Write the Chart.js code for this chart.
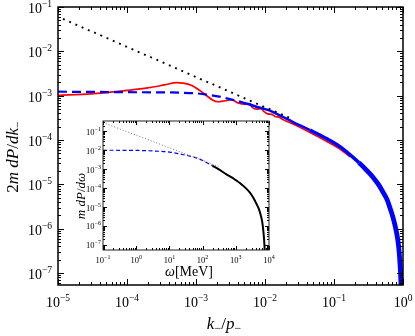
<!DOCTYPE html>
<html><head><meta charset="utf-8">
<script src="https://cdn.jsdelivr.net/npm/chart.js@4"></script>
<style>
html,body{margin:0;padding:0;background:#fff;}
#wrap{position:relative;width:415px;height:336px;overflow:hidden;}
#main{position:absolute;left:0;top:0;}
#inset{position:absolute;left:60px;top:112px;}
</style></head><body>
<div id="wrap"><canvas id="main" width="415" height="336"></canvas><canvas id="inset" width="220" height="175"></canvas></div>
<script>
// ---------- data ----------
const mainXTickExps = [-5,-4,-3,-2,-1,0];
const mainYTickExps = [-7,-6,-5,-4,-3,-2,-1];
const insetXTickExps = [-1,0,1,2,3,4];
const insetYTickExps = [-7,-6,-5,-4,-3,-2,-1];

const dottedX = [1.18e-5, 0.0245];
const dottedY = [0.054, 3.0e-4];

const blueX = [1e-5,3e-5,1e-4,3e-4,6e-4,1e-3,1.5e-3,2.2e-3,3.1e-3,4.2e-3,5.5e-3,8e-3,0.0118,0.017,0.0255,0.045,0.079,0.122,0.17,0.23,0.3,0.367,0.44,0.5,0.586,0.65,0.716,0.8,0.847,0.88,0.906,0.925,0.936];
const blueY = [1.23e-3,1.22e-3,1.2e-3,1.19e-3,1.17e-3,1.13e-3,1.05e-3,9.5e-4,8.4e-4,7.4e-4,6.6e-4,5.5e-4,4.6e-4,3.5e-4,2.55e-4,1.67e-4,1.07e-4,7.1e-5,4.7e-5,3.1e-5,2.05e-5,1.45e-5,1.0e-5,7.2e-6,4.6e-6,2.9e-6,1.8e-6,8.8e-7,5.2e-7,3.0e-7,1.6e-7,9e-8,5e-8];

const redX = [1e-5,3e-5,1e-4,2e-4,3.5e-4,5.25e-4,6.5e-4,8.7e-4,1.14e-3,1.43e-3,1.76e-3,2.08e-3,2.63e-3,3.29e-3,4.06e-3,5.13e-3,6.07e-3,6.49e-3,7.41e-3,8.76e-3,9.68e-3,0.011,0.0126,0.014,0.016,0.0182,0.0255,0.045,0.079,0.122,0.17];
const redY = [1.02e-3,1.1e-3,1.32e-3,1.5e-3,1.75e-3,1.97e-3,1.93e-3,1.7e-3,1.3e-3,1.0e-3,7.9e-4,7.3e-4,7.7e-4,8.1e-4,6.9e-4,6.4e-4,6.6e-4,5.5e-4,5.0e-4,5.1e-4,4.4e-4,3.9e-4,3.8e-4,3.4e-4,3.3e-4,2.9e-4,2.3e-4,1.48e-4,9.3e-5,6.3e-5,4.2e-5];

const inDotX = [0.1, 300];
const inDotY = [0.29, 1.4e-3];
const inBlueX = [0.1,1,3,10,20,58,82,140,200,300];
const inBlueY = [1.0e-2,9.8e-3,9.2e-3,8.0e-3,6.4e-3,4.2e-3,3.4e-3,2.1e-3,1.5e-3,1.0e-3];
const inBlackX = [200,300,521,800,1000,1318,2000,2630,3400,4170,5000,5620,6200,6600,7000,7300,7420];
const inBlackY = [1.51e-3,1.0e-3,5.37e-4,3.47e-4,2.63e-4,1.86e-4,1.0e-4,5.9e-5,3.0e-5,1.5e-5,7.6e-6,3.8e-6,1.8e-6,8e-7,2.8e-7,9e-8,5e-8];

// ---------- helpers ----------
const FF = '"Liberation Serif", "DejaVu Serif", serif';
const pts = (xs, ys) => xs.map((x, i) => ({x, y: ys[i]}));

function logTicks(min, max) {
  const major = [], minor = [];
  for (let e = Math.floor(Math.log10(min)) - 1; e <= Math.ceil(Math.log10(max)); e++) {
    const b = Math.pow(10, e);
    if (b >= min * 0.9999 && b <= max * 1.0001) major.push(b);
    for (let m = 2; m < 10; m++) { const v = m * b; if (v >= min && v <= max) minor.push(v); }
  }
  return {major, minor};
}

function drawRich(ctx, parts, x, y, align) {
  let w = 0;
  parts.forEach(p => { ctx.font = p.f; p.w = ctx.measureText(p.t).width; w += p.w; });
  let cx = align === 'center' ? x - w / 2 : (align === 'right' ? x - w : x);
  parts.forEach(p => { ctx.font = p.f; ctx.fillText(p.t, cx, y + (p.dy || 0)); cx += p.w; });
}

function framePlugin(opts) {
  return {
    id: 'frame',
    beforeDraw(chart) {
      const {ctx, chartArea: a} = chart;
      if (opts.fill) { ctx.save(); ctx.fillStyle = '#fff'; ctx.fillRect(a.left, a.top, a.right - a.left, a.bottom - a.top); ctx.restore(); }
    },
    afterDraw(chart) {
      const {ctx, chartArea: a, scales} = chart;
      const xs = scales.x, ys = scales.y;
      ctx.save();
      ctx.strokeStyle = '#000'; ctx.lineWidth = 1;
      const xt = logTicks(xs.min, xs.max), yt = logTicks(ys.min, ys.max);
      ctx.beginPath();
      const addX = (v, L) => { const p = Math.round(xs.getPixelForValue(v)) + 0.5; ctx.moveTo(p, a.bottom); ctx.lineTo(p, a.bottom - L); ctx.moveTo(p, a.top); ctx.lineTo(p, a.top + L); };
      const addY = (v, L) => { const p = Math.round(ys.getPixelForValue(v)) + 0.5; ctx.moveTo(a.left, p); ctx.lineTo(a.left + L, p); ctx.moveTo(a.right, p); ctx.lineTo(a.right - L, p); };
      xt.major.forEach(v => addX(v, opts.maj)); xt.minor.forEach(v => addX(v, opts.min));
      yt.major.forEach(v => addY(v, opts.maj)); yt.minor.forEach(v => addY(v, opts.min));
      ctx.stroke();
      ctx.lineWidth = opts.frameW; ctx.strokeStyle = opts.frameC;
      ctx.strokeRect(a.left, a.top, a.right - a.left, a.bottom - a.top);
      // tick labels
      ctx.fillStyle = '#000'; ctx.textBaseline = 'alphabetic';
      const big = opts.big + 'px ' + FF, sm = opts.sm + 'px ' + FF;
      opts.xExps.forEach(e => {
        const px = xs.getPixelForValue(Math.pow(10, e));
        drawRich(ctx, [{t: '10', f: big}, {t: String(e).replace('-', '\u2212'), f: sm, dy: -opts.xSupRise}], px, a.bottom + opts.xBase, 'center');
      });
      opts.yExps.forEach(e => {
        const py = ys.getPixelForValue(Math.pow(10, e));
        drawRich(ctx, [{t: '10', f: big}, {t: String(e).replace('-', '\u2212'), f: sm, dy: -opts.ySupRise}], a.left - opts.yGap, py + opts.yBase, 'right');
      });
      opts.titles(ctx, a);
      ctx.restore();
    }
  };
}

// ---------- main chart ----------
new Chart(document.getElementById('main'), {
  type: 'line',
  data: {
    datasets: [
      {data: pts(dottedX, dottedY), borderColor: '#000', borderWidth: 1.9, borderDash: [1.9, 4.9], pointRadius: 0, order: 0},
      {data: pts(blueX, blueY), borderColor: '#0000ff', borderWidth: 2.2, pointRadius: 0, order: 1, cubicInterpolationMode: 'monotone',
        segment: {
          borderDash: c => c.p1.parsed.x <= 4.3e-3 ? [9, 5] : [],
          borderWidth: c => { const x = c.p0.parsed.x; return x < 4.2e-3 ? 2.2 : x < 0.04 ? 2.5 : x < 0.2 ? 3.5 : 4.8; }
        }},
      {data: pts(redX, redY), borderColor: '#ff0000', borderWidth: 1.7, pointRadius: 0, order: 2, cubicInterpolationMode: 'monotone'}
    ]
  },
  options: {
    responsive: false, animation: false, devicePixelRatio: 1,
    layout: {padding: {left: 58, top: 7, right: 12, bottom: 51}},
    plugins: {legend: {display: false}, tooltip: {enabled: false}},
    scales: {
      x: {type: 'logarithmic', min: 1e-5, max: 1, display: false},
      y: {type: 'logarithmic', min: 5.4e-8, max: 0.1, display: false}
    }
  },
  plugins: [framePlugin({
    fill: false, maj: 6, min: 3, frameW: 1.5, frameC: '#000', big: 14, sm: 9.5,
    xExps: mainXTickExps, yExps: mainYTickExps, xBase: 22, xSupRise: 6.5, yGap: 6, yBase: 6, ySupRise: 6,
    titles(ctx, a) {
      const it = 'italic 17px ' + FF, up = '17px ' + FF, sub = '12px ' + FF;
      drawRich(ctx, [{t: 'k', f: it}, {t: '\u2212', f: sub, dy: 3}, {t: '/', f: up}, {t: 'p', f: it}, {t: '\u2212', f: sub, dy: 3}], 224, 329, 'center');
      ctx.save(); ctx.translate(18, 157); ctx.rotate(-Math.PI / 2);
      drawRich(ctx, [{t: '2', f: up}, {t: 'm', f: it}, {t: ' ', f: up}, {t: 'dP', f: it}, {t: '/', f: up}, {t: 'dk', f: it}, {t: '\u2212', f: sub, dy: 3}], 0, 0, 'center');
      ctx.restore();
    }
  })]
});

// ---------- inset chart ----------
new Chart(document.getElementById('inset'), {
  type: 'line',
  data: {
    datasets: [
      {data: pts(inBlackX, inBlackY), borderColor: '#000', borderWidth: 2, pointRadius: 0, order: 0, cubicInterpolationMode: 'monotone'},
      {data: pts(inDotX, inDotY), borderColor: '#777', borderWidth: 1, borderDash: [1, 2], pointRadius: 0, order: 1},
      {data: pts(inBlueX, inBlueY), borderColor: '#0000ff', borderWidth: 1.2, borderDash: [4, 2.5], pointRadius: 0, order: 2, cubicInterpolationMode: 'monotone'}
    ]
  },
  options: {
    responsive: false, animation: false, devicePixelRatio: 1,
    layout: {padding: {left: 43, top: 9, right: 11, bottom: 37}},
    plugins: {legend: {display: false}, tooltip: {enabled: false}},
    scales: {
      x: {type: 'logarithmic', min: 0.1, max: 1e4, display: false},
      y: {type: 'logarithmic', min: 5.4e-8, max: 0.35, display: false}
    }
  },
  plugins: [framePlugin({
    fill: true, maj: 4, min: 2, frameW: 1, frameC: '#222', big: 8.5, sm: 6,
    xExps: insetXTickExps, yExps: insetYTickExps, xBase: 13, xSupRise: 4, yGap: 2, yBase: 3.5, ySupRise: 4,
    titles(ctx, a) {
      const it = 'italic 14px ' + FF, up = '14px ' + FF;
      drawRich(ctx, [{t: '\u03c9', f: it}, {t: '[MeV]', f: up}], 129, 164, 'center');
      ctx.save(); ctx.translate(25, 84); ctx.rotate(-Math.PI / 2);
      const it2 = 'italic 13px ' + FF, up2 = '13px ' + FF;
      drawRich(ctx, [{t: 'm', f: it2}, {t: ' ', f: up2}, {t: 'dP', f: it2}, {t: '/', f: up2}, {t: 'd\u03c9', f: it2}], 0, 0, 'center');
      ctx.restore();
    }
  })]
});
</script>
</body></html>
